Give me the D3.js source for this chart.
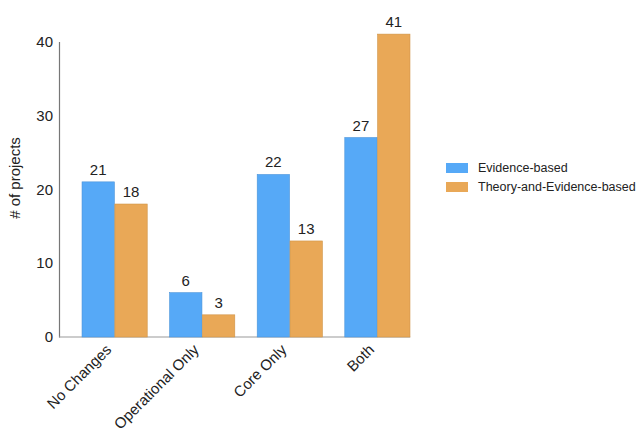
<!DOCTYPE html>
<html>
<head>
<meta charset="utf-8">
<script src="https://cdn.jsdelivr.net/npm/d3@7"></script>
<style>
  html, body { margin: 0; padding: 0; background: #fff; }
  svg { display: block; font-family: "Liberation Sans", Arial, sans-serif; }
</style>
</head>
<body>
<svg id="chart" width="638" height="430"></svg>
<script>
// Project counts by type of change, split by approach
const categories = ["No Changes", "Operational Only", "Core Only", "Both"];
const seriesNames = ["Evidence-based", "Theory-and-Evidence-based"];
const evidenceBased = [21, 6, 22, 27];
const theoryAndEvidence = [18, 3, 13, 41];
const yTicks = [0, 10, 20, 30, 40];
const colors = ["#56a9f7", "#e9a857"];
const strokes = ["#4b94d9", "#cf9346"];

const svg = d3.select("#chart");

const x0 = 59, x1 = 433, yBase = 337;
const x = d3.scaleBand().domain(categories).range([x0, x1])
  .paddingInner(0.25).paddingOuter(0.26);
const xs = d3.scaleBand().domain(seriesNames).range([0, x.bandwidth()]);
const y = d3.scaleLinear().domain([0, 40]).range([yBase, 41.5]);

const values = [evidenceBased, theoryAndEvidence];
const rows = [];
categories.forEach((c, i) => {
  seriesNames.forEach((s, j) => rows.push({ c, s, j, v: values[j][i] }));
});

// y axis: line plus tick labels, no tick marks
const yAxis = d3.axisLeft(y).tickValues(yTicks).tickSize(0).tickPadding(6);
const gy = svg.append("g").attr("transform", `translate(${x0},0)`).call(yAxis);
gy.select(".domain").attr("stroke", "#777").attr("stroke-width", 1.2);
gy.selectAll("text").attr("font-size", 15).attr("fill", "#222");

// baseline
const lastBand = x(categories[categories.length - 1]) + x.bandwidth();
svg.append("line")
  .attr("x1", x0).attr("x2", lastBand)
  .attr("y1", yBase).attr("y2", yBase)
  .attr("stroke", "#999").attr("stroke-width", 1.2);

// bars
svg.append("g").selectAll("rect").data(rows).join("rect")
  .attr("x", d => x(d.c) + xs(d.s) + 0.25)
  .attr("width", xs.bandwidth() - 0.5)
  .attr("y", d => y(d.v))
  .attr("height", d => y(0) - y(d.v))
  .attr("fill", d => colors[d.j])
  .attr("stroke", d => strokes[d.j])
  .attr("stroke-width", 0.6);

// value labels
svg.append("g").selectAll("text").data(rows).join("text")
  .attr("x", d => x(d.c) + xs(d.s) + xs.bandwidth() / 2)
  .attr("y", d => y(d.v) - 7)
  .attr("text-anchor", "middle")
  .attr("font-size", 15)
  .attr("fill", "#222")
  .text(d => d.v);

// category labels, rotated
svg.append("g").selectAll("text").data(categories).join("text")
  .attr("transform", d => `translate(${x(d) + x.bandwidth() / 2 - 6},${yBase + 10}) rotate(-45)`)
  .attr("text-anchor", "end")
  .attr("dy", "0.35em")
  .attr("font-size", 15)
  .attr("fill", "#222")
  .text(d => d);

// y axis title
svg.append("text")
  .attr("transform", `translate(20,178) rotate(-90)`)
  .attr("text-anchor", "middle")
  .attr("font-size", 15)
  .attr("fill", "#222")
  .text("# of projects");

// legend
const legend = svg.append("g").attr("transform", "translate(446,163)");
seriesNames.forEach((s, j) => {
  const g = legend.append("g").attr("transform", `translate(0,${j * 19})`);
  g.append("rect").attr("width", 22).attr("height", 10).attr("fill", colors[j]);
  g.append("text").attr("x", 32).attr("y", 5).attr("dy", "0.35em")
    .attr("font-size", 12.5).attr("fill", "#222").text(s);
});
</script>
</body>
</html>
